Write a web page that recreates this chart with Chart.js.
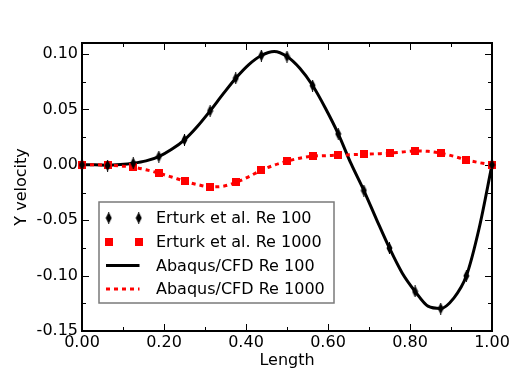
<!DOCTYPE html>
<html>
<head>
<meta charset="utf-8">
<script src="https://cdn.jsdelivr.net/npm/chart.js@4.4.1/dist/chart.umd.min.js"></script>
<style>
html,body{margin:0;padding:0;background:#fff;}
#wrap{width:516px;height:383px;position:relative;}
</style>
</head>
<body>
<div id="wrap"><canvas id="c" width="516" height="383"></canvas></div>
<script>
// ---- data ----
const xErturk = [0, 0.0625, 0.125, 0.1875, 0.25, 0.3125, 0.375, 0.4375, 0.5, 0.5625, 0.625, 0.6875, 0.75, 0.8125, 0.875, 0.9375, 1.0];
const erturkRe100 = [0, -0.0006, 0.0015, 0.0075, 0.0226, 0.0487, 0.0782, 0.0987, 0.0978, 0.0716, 0.0280, -0.0232, -0.0752, -0.1143, -0.1297, -0.1002, 0];
const erturkRe1000 = [0, -0.0003, -0.0021, -0.0075, -0.0147, -0.0199, -0.0159, -0.0048, 0.0033, 0.0078, 0.0087, 0.0096, 0.0105, 0.0126, 0.0105, 0.0045, 0];

const xAbaqus = [0, 0.03125, 0.0625, 0.09375, 0.125, 0.15625, 0.1875, 0.21875, 0.25, 0.28125, 0.3125, 0.34375, 0.375, 0.40625, 0.4375, 0.46875, 0.5, 0.53125, 0.5625, 0.59375, 0.625, 0.65625, 0.6875, 0.71875, 0.75, 0.78125, 0.8125, 0.84375, 0.875, 0.90625, 0.9375, 0.96875, 1.0];
const abaqusRe100 = [0, 0, -0.0003, 0.0003, 0.0015, 0.0036, 0.0075, 0.014, 0.0226, 0.0346, 0.0487, 0.0638, 0.0782, 0.0903, 0.0987, 0.1023, 0.0978, 0.0872, 0.0716, 0.0511, 0.0280, 0.001, -0.0232, -0.0496, -0.0752, -0.0978, -0.1143, -0.1276, -0.1297, -0.1206, -0.1002, -0.057, 0];
const abaqusRe1000 = [0, 0, -0.0003, -0.001, -0.0021, -0.0045, -0.0075, -0.011, -0.0147, -0.0178, -0.0199, -0.0193, -0.0159, -0.0108, -0.0048, -0.0003, 0.0033, 0.006, 0.0078, 0.0083, 0.0087, 0.0092, 0.0096, 0.0100, 0.0105, 0.0116, 0.0126, 0.0122, 0.0105, 0.0078, 0.0045, 0.002, 0];

const seriesLabels = ['Erturk et al. Re 100', 'Erturk et al. Re 1000', 'Abaqus/CFD Re 100', 'Abaqus/CFD Re 1000'];
const xTitle = 'Length';
const yTitle = 'Y velocity';
const xRange = [0, 1];
const yRange = [-0.15, 0.11];
// tick positions (major ones are labelled)
const xTickValues = [0, 0.1, 0.2, 0.3, 0.4, 0.5, 0.6, 0.7, 0.8, 0.9, 1.0];
const xTickLabels = ['0.00', '', '0.20', '', '0.40', '', '0.60', '', '0.80', '', '1.00'];
const yTickValues = [-0.15, -0.125, -0.1, -0.075, -0.05, -0.025, 0, 0.025, 0.05, 0.075, 0.1];
const yTickLabels = ['-0.15', '', '-0.10', '', '-0.05', '', '0.00', '', '0.05', '', '0.10'];

// ---- marker images ----
function diamond() {
  const c = document.createElement('canvas');
  c.width = 7; c.height = 12;
  const g = c.getContext('2d');
  g.fillStyle = '#000';
  g.beginPath();
  g.moveTo(3.5, 0); g.lineTo(6.5, 6); g.lineTo(3.5, 12); g.lineTo(0.5, 6); g.closePath();
  g.fill();
  g.fillRect(3, 0, 1, 12);
  return c;
}
function square() {
  const c = document.createElement('canvas');
  c.width = 8; c.height = 8;
  const g = c.getContext('2d');
  g.fillStyle = '#ff0000';
  g.fillRect(0, 0, 8, 8);
  return c;
}
const diamondImg = diamond();
const squareImg = square();

const FONT = '"DejaVu Sans", sans-serif';
const pts = (xs, ys) => xs.map((x, i) => ({x: x, y: ys[i]}));

const framePlugin = {
  id: 'frame',
  beforeDatasetsDraw(chart) {
    const ctx = chart.ctx, a = chart.chartArea;
    ctx.save();
    ctx.strokeStyle = '#000';
    ctx.lineWidth = 1;
    const xs = chart.scales.x, ys = chart.scales.y;
    xTickValues.forEach((v, i) => {
      const L = xTickLabels[i] ? 7 : 4;
      const px = Math.round(xs.getPixelForValue(v)) + 0.5;
      ctx.beginPath();
      ctx.moveTo(px, a.bottom); ctx.lineTo(px, a.bottom - L);
      ctx.moveTo(px, a.top); ctx.lineTo(px, a.top + L);
      ctx.stroke();
    });
    yTickValues.forEach((v, i) => {
      const L = yTickLabels[i] ? 7 : 4;
      const py = Math.round(ys.getPixelForValue(v)) + 0.5;
      ctx.beginPath();
      ctx.moveTo(a.left, py); ctx.lineTo(a.left + L, py);
      ctx.moveTo(a.right, py); ctx.lineTo(a.right - L, py);
      ctx.stroke();
    });
    ctx.lineWidth = 2;
    ctx.strokeRect(a.left, a.top, a.right - a.left, a.bottom - a.top);
    ctx.restore();
  },
  afterDatasetsDraw(chart) {
    const ctx = chart.ctx, a = chart.chartArea;
    const bx = a.left + 17, by = a.top + 159, bw = 235, bh = 101;
    ctx.save();
    ctx.fillStyle = '#fff';
    ctx.fillRect(bx, by, bw, bh);
    ctx.strokeStyle = '#7a7a7a';
    ctx.lineWidth = 1.5;
    ctx.strokeRect(bx, by, bw, bh);
    const ds = chart.data.datasets;
    ctx.font = '16px ' + FONT;
    ctx.textBaseline = 'middle';
    ctx.fillStyle = '#000';
    for (let i = 0; i < 4; i++) {
      const cy = by + 16 + i * 23.7;
      const d = ds[i];
      if (i === 0) {
        ctx.drawImage(diamondImg, bx + 9.7 - 3.5, cy - 6);
        ctx.drawImage(diamondImg, bx + 39.7 - 3.5, cy - 6);
      } else if (i === 1) {
        ctx.drawImage(squareImg, bx + 9.7 - 4, cy - 4);
        ctx.drawImage(squareImg, bx + 39.7 - 4, cy - 4);
      } else {
        ctx.beginPath();
        ctx.strokeStyle = d.borderColor;
        ctx.lineWidth = d.borderWidth;
        ctx.setLineDash(d.borderDash || []);
        ctx.moveTo(bx + 7, cy); ctx.lineTo(bx + 40.5, cy);
        ctx.stroke();
        ctx.setLineDash([]);
      }
      ctx.fillStyle = '#000';
      ctx.fillText(d.label, bx + 57, cy + 1);
    }
    ctx.restore();
  }
};

function setTicks(values) {
  return s => { s.ticks = values.map(v => ({value: v})); };
}

new Chart(document.getElementById('c'), {
  type: 'scatter',
  data: {
    datasets: [
      {label: seriesLabels[0], data: pts(xErturk, erturkRe100), showLine: false, pointStyle: diamondImg, order: 0, clip: false},
      {label: seriesLabels[1], data: pts(xErturk, erturkRe1000), showLine: false, pointStyle: squareImg, order: 0, clip: false},
      {label: seriesLabels[2], data: pts(xAbaqus, abaqusRe100), showLine: true, pointRadius: 0, borderColor: '#000', borderWidth: 3, cubicInterpolationMode: 'monotone', order: 2, clip: false},
      {label: seriesLabels[3], data: pts(xAbaqus, abaqusRe1000), showLine: true, pointRadius: 0, borderColor: '#ff0000', borderWidth: 3, borderDash: [4, 4], cubicInterpolationMode: 'monotone', order: 1, clip: false}
    ]
  },
  options: {
    responsive: false,
    animation: false,
    events: [],
    layout: {padding: {left: 0, right: 24, top: 43, bottom: 0}},
    plugins: {legend: {display: false}, tooltip: {enabled: false}},
    scales: {
      x: {
        type: 'linear', min: xRange[0], max: xRange[1],
        grid: {display: false, drawTicks: false},
        border: {display: false},
        afterBuildTicks: setTicks(xTickValues),
        ticks: {autoSkip: false, maxRotation: 0, padding: 2, color: '#000',
          font: {family: FONT, size: 16},
          callback: (v, i) => xTickLabels[i]},
        title: {display: true, text: xTitle, color: '#000', font: {family: FONT, size: 16}, padding: {top: 0, bottom: 13}},
        afterFit: s => { s.height = 52; }
      },
      y: {
        type: 'linear', min: yRange[0], max: yRange[1],
        grid: {display: false, drawTicks: false},
        border: {display: false},
        afterBuildTicks: setTicks(yTickValues),
        ticks: {autoSkip: false, padding: 4, color: '#000',
          font: {family: FONT, size: 16},
          callback: (v, i) => yTickLabels[i]},
        title: {display: true, text: yTitle, color: '#000', font: {family: FONT, size: 16}, padding: {top: 12, bottom: 0}},
        afterFit: s => { s.width = 82; }
      }
    }
  },
  plugins: [framePlugin]
});
</script>
</body>
</html>
